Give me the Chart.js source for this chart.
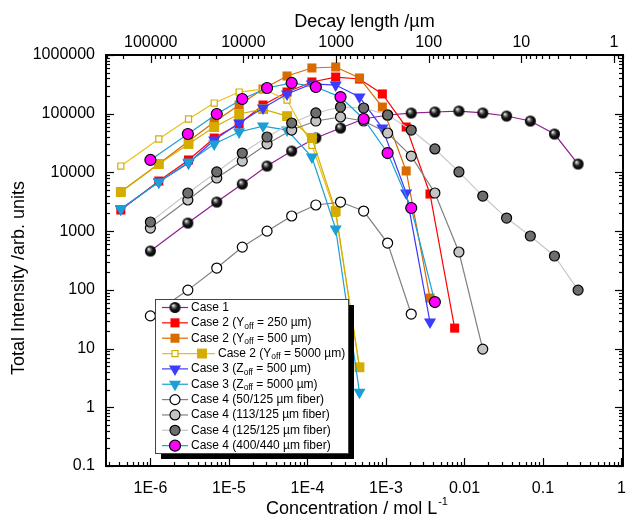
<!DOCTYPE html>
<html>
<head>
<meta charset="utf-8">
<script src="https://cdn.jsdelivr.net/npm/chart.js@4.4.1/dist/chart.umd.min.js"></script>
<style>
  html, body { margin: 0; padding: 0; background: #fff; }
</style>
</head>
<body>
<canvas id="myChart" width="630" height="527"></canvas>
<script>
// concentration sets (mol/L)
const concA = [1.0e-6, 3.0e-6, 7.0e-6, 1.48e-5, 3.06e-5, 6.3e-5, 1.28e-4, 2.64e-4, 5.2e-4, 1.05e-3, 2.1e-3, 4.2e-3, 8.5e-3, 1.71e-2, 3.44e-2, 6.9e-2, 0.14, 0.28];
const concB = [4.2e-7, 1.28e-6, 3.06e-6, 6.5e-6, 1.35e-5, 2.72e-5, 5.5e-5, 1.14e-4, 2.29e-4, 4.6e-4, 9.0e-4, 1.81e-3, 3.64e-3, 7.5e-3];

// total intensity per series
const case1 = [458, 1374, 3130, 6340, 12850, 23150, 38600, 57000, 81200, 95000, 102700, 107000, 111000, 103000, 91400, 75100, 45100, 13900];
const case2y250 = [2290, 7130, 16300, 38500, 66800, 140600, 234000, 347000, 421000, 390000, 217000, 59300, 4290, 22.3];
const case2y500 = [4700, 14000, 34000, 72000, 141000, 263000, 439000, 601000, 625000, 406000, 130000, 10600, 72.5];
const case2y5000open = [12850, 37100, 81300, 152000, 234000, 263000, 171000, 29000, 2000, 4.8];
const case2y5000 = [4630, 13900, 30500, 59300, 98800, 120000, 91000, 38600, 2200, 4.8];
const case3z500 = [2380, 6850, 14500, 35600, 69500, 125000, 217000, 321000, 308000, 192000, 57000, 4460, 28.3];
const case3z5000 = [2380, 6850, 15000, 30500, 48800, 61600, 52700, 18300, 1090, 1.8];
const case4f50 = [36, 99, 235, 535, 1000, 1810, 2790, 3130, 2200, 627, 38.7];
const case4f113 = [1130, 3390, 8030, 15600, 30500, 52700, 75100, 87900, 75100, 46900, 19000, 4460, 441, 9.8];
const case4f125 = [1430, 4460, 10200, 21400, 40100, 69500, 103000, 130000, 125000, 95000, 52700, 25100, 10200, 3960, 1670, 826, 377, 99];
const case4f400 = [16300, 45100, 98800, 178000, 274000, 334000, 285000, 192000, 81300, 21400, 2480, 62];

// tick labels
const xTickValues = [1e-6, 1e-5, 1e-4, 1e-3, 1e-2, 0.1, 1];
const xTickLabels = ['1E-6', '1E-5', '1E-4', '1E-3', '0.01', '0.1', '1'];
const topTickValues = [1e5, 1e4, 1e3, 100, 10, 1];
const topTickLabels = ['100000', '10000', '1000', '100', '10', '1'];
const yTickValues = [0.1, 1, 10, 100, 1000, 1e4, 1e5, 1e6];
const yTickLabels = ['0.1', '1', '10', '100', '1000', '10000', '100000', '1000000'];

// legend texts, [main, subscript, rest]
const legendTexts = [
  ['Case 1'],
  ['Case 2 (Y', 'off', ' = 250 \u00b5m)'],
  ['Case 2 (Y', 'off', ' = 500 \u00b5m)'],
  ['Case 2 (Y', 'off', ' = 5000 \u00b5m)'],
  ['Case 3 (Z', 'off', ' = 500 \u00b5m)'],
  ['Case 3 (Z', 'off', ' = 5000 \u00b5m)'],
  ['Case 4 (50/125 \u00b5m fiber)'],
  ['Case 4 (113/125 \u00b5m fiber)'],
  ['Case 4 (125/125 \u00b5m fiber)'],
  ['Case 4 (400/440 \u00b5m fiber)']
];
// which datasets belong to each legend row
const legendRows = [[0], [1], [2], [3, 4], [5], [6], [7], [8], [9], [10]];

const FONT = "'Liberation Sans', Arial, Helvetica, sans-serif";

function makeBall(r) {
  var c = document.createElement('canvas');
  c.width = c.height = 2 * r + 2;
  var g = c.getContext('2d');
  var cx = r + 1, cy = r + 1;
  var grad = g.createRadialGradient(cx - r * 0.35, cy - r * 0.4, 0.2, cx, cy, r);
  grad.addColorStop(0, '#ffffff');
  grad.addColorStop(0.2, '#9a9a9a');
  grad.addColorStop(0.55, '#1a1a1a');
  grad.addColorStop(1, '#000000');
  g.fillStyle = grad;
  g.beginPath();
  g.arc(cx, cy, r, 0, 2 * Math.PI);
  g.fill();
  return c;
}
const ball = makeBall(5.5);

function pts(xs, ys) {
  return ys.map((y, i) => ({ x: xs[i], y: y }));
}

function series(data, line, style, radius, fill, border, bw, extra) {
  return Object.assign({
    data: data,
    borderColor: line,
    borderWidth: 1.2,
    pointStyle: style,
    pointRadius: radius,
    pointBackgroundColor: fill,
    pointBorderColor: border,
    pointBorderWidth: bw,
    tension: 0,
    fill: false
  }, extra || {});
}

const datasets = [
  series(pts(concA, case1), '#8e1f8e', ball, 5.5, '#000', '#000', 0),
  series(pts(concB, case2y250), '#ff0000', 'rect', 6.4, '#ff0000', '#ff0000', 0),
  series(pts(concB, case2y500), '#d96a00', 'rect', 6.4, '#d96a00', '#d96a00', 0),
  series(pts(concB, case2y5000open), '#e8c21a', 'rect', 4.3, '#ffffff', '#d4ad00', 1.2),
  series(pts(concB, case2y5000), '#d4ad00', 'rect', 7, '#d4ad00', '#d4ad00', 0),
  series(pts(concB, case3z500), '#3c3cff', 'triangle', 7, '#3c3cff', '#3c3cff', 0, { pointRotation: 180 }),
  series(pts(concB, case3z5000), '#1a9fd6', 'triangle', 7, '#1a9fd6', '#1a9fd6', 0, { pointRotation: 180 }),
  series(pts(concA, case4f50), '#808080', 'circle', 5, '#ffffff', '#000', 1.2),
  series(pts(concA, case4f113), '#808080', 'circle', 5, '#c4c4c4', '#000', 1.2),
  series(pts(concA, case4f125), '#c8c8c8', 'circle', 5, '#6e6e6e', '#000', 1.2),
  series(pts(concA, case4f400), '#1a9fd6', 'circle', 5.5, '#ff00ff', '#000', 1.2)
];
// later datasets on top
datasets.forEach((d, i) => { d.order = -i; });

function drawMarker(ctx, ds, x, y) {
  var st = ds.pointStyle, r = ds.pointRadius;
  if (st instanceof HTMLCanvasElement) {
    ctx.drawImage(st, x - st.width / 2, y - st.height / 2);
    return;
  }
  ctx.beginPath();
  if (st === 'circle') {
    ctx.arc(x, y, r, 0, 2 * Math.PI);
  } else if (st === 'rect') {
    var s = r * Math.SQRT1_2;
    ctx.rect(x - s, y - s, 2 * s, 2 * s);
  } else if (st === 'triangle') {
    ctx.moveTo(x, y + r);
    ctx.lineTo(x - r * Math.sin(Math.PI / 3), y - r * 0.5);
    ctx.lineTo(x + r * Math.sin(Math.PI / 3), y - r * 0.5);
    ctx.closePath();
  }
  ctx.fillStyle = ds.pointBackgroundColor;
  ctx.fill();
  if (ds.pointBorderWidth > 0) {
    ctx.lineWidth = ds.pointBorderWidth;
    ctx.strokeStyle = ds.pointBorderColor;
    ctx.stroke();
  }
}

function logMarks(min, max) {
  var out = [];
  for (var k = Math.floor(Math.log10(min)) - 1; k <= Math.ceil(Math.log10(max)); k++) {
    for (var m = 1; m <= 9; m++) {
      var v = m * Math.pow(10, k);
      if (v >= min * 0.999 && v <= max * 1.001) out.push({ v: v, major: m === 1 });
    }
  }
  return out;
}

const framePlugin = {
  id: 'frame',
  afterDraw(chart) {
    const ctx = chart.ctx;
    const a = chart.chartArea;
    const sx = chart.scales.x, sx2 = chart.scales.x2, sy = chart.scales.y;
    ctx.save();
    ctx.strokeStyle = '#000';

    // ticks, pointing inward
    ctx.lineWidth = 1.2;
    logMarks(sx.min, sx.max).forEach(t => {
      var p = Math.round(sx.getPixelForValue(t.v)) + 0.5;
      var L = t.major ? 8 : 4;
      ctx.beginPath(); ctx.moveTo(p, a.bottom); ctx.lineTo(p, a.bottom - L); ctx.stroke();
    });
    logMarks(sx2.min, sx2.max).forEach(t => {
      var p = Math.round(sx2.getPixelForValue(t.v)) + 0.5;
      var L = t.major ? 8 : 4;
      ctx.beginPath(); ctx.moveTo(p, a.top); ctx.lineTo(p, a.top + L); ctx.stroke();
    });
    logMarks(sy.min, sy.max).forEach(t => {
      var p = Math.round(sy.getPixelForValue(t.v)) + 0.5;
      var L = t.major ? 8 : 4;
      ctx.beginPath(); ctx.moveTo(a.left, p); ctx.lineTo(a.left + L, p); ctx.stroke();
      ctx.beginPath(); ctx.moveTo(a.right, p); ctx.lineTo(a.right - L, p); ctx.stroke();
    });

    // frame
    ctx.lineWidth = 2;
    ctx.strokeRect(a.left, a.top, a.right - a.left, a.bottom - a.top);

    // axis titles
    ctx.fillStyle = '#000';
    ctx.textBaseline = 'middle';
    ctx.textAlign = 'center';
    ctx.font = '18px ' + FONT;
    ctx.fillText('Decay length /\u00b5m', (a.left + a.right) / 2, 22);

    var bt = 'Concentration / mol L';
    var bw = ctx.measureText(bt).width;
    ctx.font = '11px ' + FONT;
    var sw = ctx.measureText('-1').width;
    var bx = (a.left + a.right) / 2 - 8 - (bw + sw) / 2;
    ctx.textAlign = 'left';
    ctx.font = '18px ' + FONT;
    ctx.fillText(bt, bx, 509);
    ctx.font = '11px ' + FONT;
    ctx.fillText('-1', bx + bw + 1, 502);

    ctx.save();
    ctx.translate(19, 278);
    ctx.rotate(-Math.PI / 2);
    ctx.textAlign = 'center';
    ctx.font = '18px ' + FONT;
    ctx.fillText('Total Intensity /arb. units', 0, 0);
    ctx.restore();

    // legend box with shadow
    var lx = 155, ly = 299, lw = 193, lh = 154;
    ctx.fillStyle = '#000';
    ctx.fillRect(lx + 6, ly + 6, lw, lh);
    ctx.fillStyle = '#fff';
    ctx.fillRect(lx, ly, lw, lh);
    ctx.lineWidth = 1;
    ctx.strokeStyle = '#444';
    ctx.strokeRect(lx + 0.5, ly + 0.5, lw, lh);

    var ds = chart.data.datasets;
    legendRows.forEach((idx, r) => {
      var y = ly + 8.5 + r * 15.35;
      var d0 = ds[idx[0]];
      var lineEnd = idx.length > 1 ? 215 : 188;
      ctx.strokeStyle = d0.borderColor;
      ctx.lineWidth = 1.2;
      ctx.beginPath(); ctx.moveTo(162, y); ctx.lineTo(lineEnd, y); ctx.stroke();
      drawMarker(ctx, d0, 175, y);
      if (idx.length > 1) drawMarker(ctx, ds[idx[1]], 202, y);
      var tx = idx.length > 1 ? 218 : 191;
      var parts = legendTexts[r];
      ctx.fillStyle = '#000';
      ctx.textAlign = 'left';
      ctx.textBaseline = 'middle';
      ctx.font = '12px ' + FONT;
      ctx.fillText(parts[0], tx, y);
      tx += ctx.measureText(parts[0]).width;
      if (parts.length > 1) {
        ctx.font = '8.5px ' + FONT;
        ctx.fillText(parts[1], tx, y + 3.5);
        tx += ctx.measureText(parts[1]).width;
        ctx.font = '12px ' + FONT;
        ctx.fillText(parts[2], tx, y);
      }
    });
    ctx.restore();
  }
};

new Chart(document.getElementById('myChart'), {
  type: 'line',
  data: { datasets: datasets },
  options: {
    responsive: false,
    animation: false,
    devicePixelRatio: 1,
    layout: { padding: { left: 0, right: 4, top: 0, bottom: 0 } },
    plugins: { legend: { display: false }, tooltip: { enabled: false } },
    elements: { line: { borderWidth: 1.2 } },
    scales: {
      x: {
        type: 'logarithmic', position: 'bottom', min: 2.72e-7, max: 1.045,
        grid: { display: false, drawTicks: false }, border: { display: false },
        ticks: {
          autoSkip: false, maxRotation: 0, padding: 13, color: '#000',
          font: { family: FONT, size: 16 },
          callback: (v, i) => xTickLabels[i]
        },
        afterBuildTicks: s => { s.ticks = xTickValues.map(v => ({ value: v })); },
        afterFit: s => { s.height = 61; s.paddingLeft = 0; s.paddingRight = 0; }
      },
      x2: {
        type: 'logarithmic', position: 'top', axis: 'x', reverse: true, min: 0.8, max: 304000,
        grid: { display: false, drawTicks: false }, border: { display: false },
        ticks: {
          autoSkip: false, maxRotation: 0, padding: 3, color: '#000',
          font: { family: FONT, size: 16 },
          callback: (v, i) => topTickLabels[i]
        },
        afterBuildTicks: s => { s.ticks = topTickValues.map(v => ({ value: v })); },
        afterFit: s => { s.height = 55; s.paddingLeft = 0; s.paddingRight = 0; }
      },
      y: {
        type: 'logarithmic', position: 'left', min: 0.1, max: 1e6,
        grid: { display: false, drawTicks: false }, border: { display: false },
        ticks: {
          autoSkip: false, padding: 11, color: '#000',
          font: { family: FONT, size: 16 },
          callback: (v, i) => yTickLabels[i]
        },
        afterBuildTicks: s => { s.ticks = yTickValues.map(v => ({ value: v })); },
        afterFit: s => { s.width = 106; s.paddingTop = 0; s.paddingBottom = 0; }
      }
    }
  },
  plugins: [framePlugin]
});
</script>
</body>
</html>
